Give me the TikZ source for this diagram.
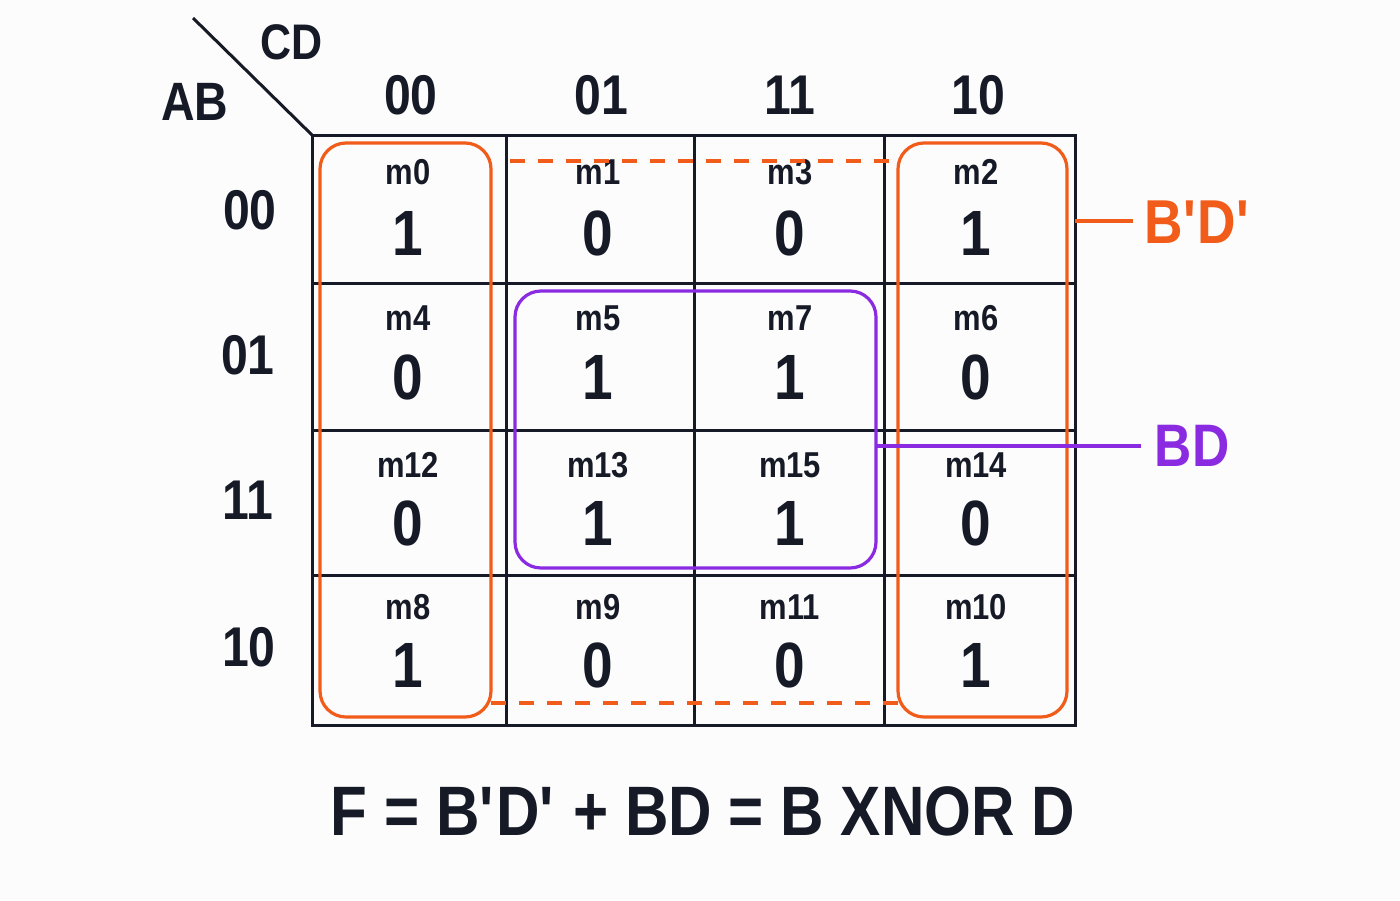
\documentclass[tikz,border=0pt]{standalone}
\usepackage{fontspec}
\setmainfont{Liberation Sans}[FakeStretch=0.86]
\definecolor{ink}{HTML}{161A26}
\definecolor{kor}{HTML}{F25C1A}
\definecolor{kpu}{HTML}{8A2BE2}
\newcommand{\sq}{\textquotesingle}
\begin{document}
\begin{tikzpicture}[x=1pt,y=-1pt,
  txt/.style={inner sep=0pt,text=ink,font=\bfseries},
  mlab/.style={txt,font=\bfseries\fontsize{36}{38}\selectfont},
  val/.style={txt,font=\bfseries\fontsize{64}{68}\selectfont},
  hdr/.style={txt,font=\bfseries\fontsize{56}{60}\selectfont},
  gridline/.style={draw=ink,line width=3pt},
  grp/.style={line width=3.2pt,rounded corners=26pt},
]
\fill[white!98!gray] (0,0) rectangle (1400,900);
\useasboundingbox (0,0) rectangle (1400,900);
% grid
\draw[gridline] (312,135) rectangle (1075,725);
\foreach \x in {506,694,884} \draw[gridline] (\x,135) -- (\x,725);
\foreach \y in {283,430,575} \draw[gridline] (312,\y) -- (1075,\y);
\coordinate (corner) at (312,135);
\coordinate (diagtop) at (193,18);
\draw[ink,line width=3pt] (diagtop) -- (corner);
\node[hdr,font=\bfseries\fontsize{50}{54}\selectfont] (cd) at (292,42) {CD};
\node[hdr,font=\bfseries\fontsize{54}{58}\selectfont] (ab) at (195,102) {AB};
% column headers
\node[hdr] (c0) at (411,95) {00};
\node[hdr] (c1) at (601,95) {01};
\node[hdr] (c2) at (790,95) {11};
\node[hdr] (c3) at (978,95) {10};
% row headers
\node[hdr] (r0) at (250,210) {00};
\node[hdr] (r1) at (248,355) {01};
\node[hdr] (r2) at (248,500) {11};
\node[hdr] (r3) at (249,647) {10};
% cells
\foreach \lab/\v/\x/\r in {
 m0/1/408/0, m1/0/598/0, m3/0/790/0, m2/1/976/0,
 m4/0/408/1, m5/1/598/1, m7/1/790/1, m6/0/976/1,
 m12/0/408/2, m13/1/598/2, m15/1/790/2, m14/0/976/2,
 m8/1/408/3, m9/0/598/3, m11/0/790/3, m10/1/976/3}{
 \pgfmathsetmacro{\ym}{\r==0?172:(\r==1?318:(\r==2?465:607))}
 \pgfmathsetmacro{\yv}{\r==0?233:(\r==1?377:(\r==2?523:665))}
 \node[mlab] (l\lab) at (\x,\ym) {\lab};
 \node[val] (v\lab) at (\x,\yv) {\v};
}
% orange groups
\draw[grp,kor] (320,143) rectangle (491,717);
\draw[grp,kor] (898,143) rectangle (1067,717);
\coordinate (dt1) at (510,161);
\coordinate (dt2) at (898,161);
\coordinate (db1) at (491,703);
\coordinate (db2) at (898,703);
\draw[kor,line width=3.2pt,dash pattern=on 15pt off 13pt] (dt1) -- (dt2);
\draw[kor,line width=3.2pt,dash pattern=on 15pt off 13pt] (db1) -- (db2);
% purple group
\draw[grp,kpu] (515,291) rectangle (876,568);
% labels
\node[txt,text=kor,font=\bfseries\fontsize{62}{66}\selectfont] (bdp) at (1198,222) {B\sq D\sq};
\coordinate (bdpstart) at (1075,221);
\draw[kor,line width=3.2pt] (bdpstart) -- ([xshift=-12pt]bdp.west|-bdpstart);
\node[txt,text=kpu,font=\bfseries\fontsize{60}{64}\selectfont] (bd) at (1192,446) {BD};
\coordinate (bdstart) at (876,446);
\draw[kpu,line width=3.2pt] (bdstart) -- ([xshift=-14pt]bd.west);
% equation
\node[txt,font=\bfseries\fontsize{70}{74}\selectfont] (eq) at (703,811) {F = B\sq D\sq{} + BD = B XNOR D};
\end{tikzpicture}
\end{document}
